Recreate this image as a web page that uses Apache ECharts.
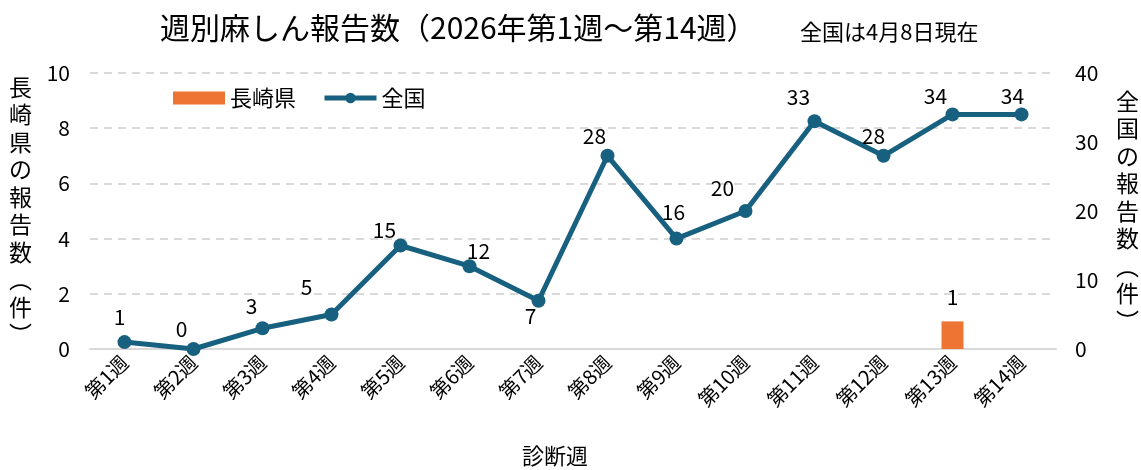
<!DOCTYPE html>
<html>
<head>
<meta charset="utf-8">
<script src="https://cdn.jsdelivr.net/npm/echarts@6/dist/echarts.min.js"></script>
<style>
  html, body { margin: 0; padding: 0; background: #fff; }
  #chart { width: 1141px; height: 470px; }
</style>
</head>
<body>
<div id="chart"></div>
<script>
const weeks = ["第1週", "第2週", "第3週", "第4週", "第5週", "第6週", "第7週",
  "第8週", "第9週", "第10週", "第11週", "第12週", "第13週", "第14週"];
const nagasaki = [0, 0, 0, 0, 0, 0, 0, 0, 0, 0, 0, 0, 1, 0];
const national = [1, 0, 3, 5, 15, 12, 7, 28, 16, 20, 33, 28, 34, 34];

// label nudges so numbers sit like the original
const lineLabelOffsets = [
  [-5, -25], [-12, -20], [-11, -22], [-25, -27], [-16, -15], [9, -15], [-8, 15],
  [-13, -20], [-3, -27], [-23, -23], [-16, -24], [-10, -20], [-17, -18], [-9, -18]
];

const FONT = "'Noto Sans CJK JP', sans-serif";
const gridColor = "#d9d9d9";
const lineColor = "#17607f";
const barColor = "#ed7432";

const chart = echarts.init(document.getElementById("chart"));

chart.setOption({
  animation: false,
  textStyle: { fontFamily: FONT, color: "#000" },
  title: [
    {
      text: "週別麻しん報告数（2026年第1週～第14週）",
      left: 155,
      top: 8,
      textStyle: { fontFamily: FONT, fontSize: 30, fontWeight: "normal", color: "#000" },
    },
    {
      text: "全国は4月8日現在",
      left: 795,
      top: 16,
      textStyle: { fontFamily: FONT, fontSize: 22, fontWeight: "normal", color: "#000" },
    },
  ],
  legend: {
    left: 168,
    top: 82,
    itemGap: 26,
    itemWidth: 52,
    itemHeight: 13,
    textStyle: { fontFamily: FONT, fontSize: 22, color: "#000" },
    data: [
      { name: "長崎県", icon: "rect" },
      { name: "全国", lineStyle: { width: 5 }, itemStyle: { borderWidth: 0 } },
    ],
  },
  grid: { left: 90, right: 85, top: 73, bottom: 121, outerBoundsMode: "none" },
  xAxis: {
    type: "category",
    data: weeks,
    name: "診断週",
    nameLocation: "middle",
    nameGap: 96,
    nameTextStyle: { fontFamily: FONT, fontSize: 22, color: "#000", padding: [0, 36, 0, 0] },
    axisLine: { lineStyle: { color: gridColor, width: 2 } },
    axisTick: { show: false },
    axisLabel: { rotate: 45, fontSize: 20, color: "#000", margin: 10, interval: 0 },
  },
  yAxis: [
    {
      type: "value",
      min: 0,
      max: 10,
      interval: 2,
      name: "長崎県の報告数︵件︶".split("").join("\n"),
      nameLocation: "middle",
      nameRotate: 0,
      nameGap: 58,
      nameTextStyle: { fontFamily: FONT, fontSize: 23, lineHeight: 27.5, color: "#000" },
      axisLabel: { fontSize: 21, color: "#000", margin: 20 },
      axisLine: { show: false },
      axisTick: { show: false },
      splitLine: { lineStyle: { color: gridColor, width: 2, type: [8, 6] } },
    },
    {
      type: "value",
      min: 0,
      max: 40,
      interval: 10,
      name: "全国の報告数︵件︶".split("").join("\n"),
      nameLocation: "middle",
      nameRotate: 0,
      nameGap: 60,
      nameTextStyle: { fontFamily: FONT, fontSize: 23, lineHeight: 27.5, color: "#000" },
      axisLabel: { fontSize: 21, color: "#000", margin: 19 },
      axisLine: { show: false },
      axisTick: { show: false },
      splitLine: { show: false },
    },
  ],
  series: [
    {
      name: "長崎県",
      type: "bar",
      yAxisIndex: 0,
      data: nagasaki,
      barWidth: 22,
      itemStyle: { color: barColor },
      label: {
        show: true,
        position: "top",
        distance: 14,
        fontSize: 21,
        color: "#000",
        formatter: (p) => (p.value ? p.value : ""),
      },
    },
    {
      name: "全国",
      type: "line",
      yAxisIndex: 1,
      data: national.map((v, i) => ({
        value: v,
        label: { offset: lineLabelOffsets[i] },
      })),
      symbol: "circle",
      symbolSize: 14,
      lineStyle: { color: lineColor, width: 5 },
      itemStyle: { color: lineColor },
      label: {
        show: true,
        position: "inside",
        fontSize: 21,
        color: "#000",
      },
      z: 3,
    },
  ],
});
</script>
</body>
</html>
